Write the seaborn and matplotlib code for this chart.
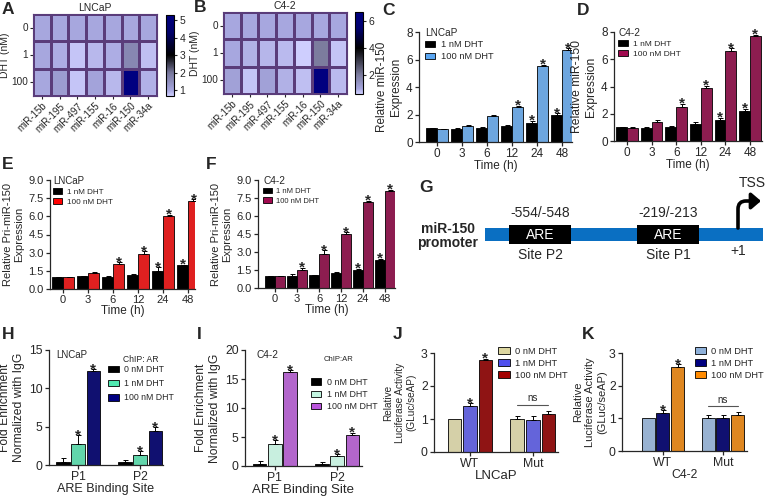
import matplotlib
matplotlib.use("Agg")
import matplotlib.pyplot as plt
import numpy as np
import pandas as pd
import seaborn as sns
from matplotlib.colors import LinearSegmentedColormap
from matplotlib.patches import FancyArrowPatch, Patch, Rectangle
from matplotlib.path import Path

# ---- A/B heatmaps ----
mirnas = ["miR-15b", "miR-195", "miR-497", "miR-155", "miR-16", "miR-150", "miR-34a"]
dht_rows = ["0", "1", "100"]
lncap_heat_0 = [1.0, 1.0, 1.0, 1.0, 1.0, 1.0, 1.0]
lncap_heat_1 = [1.0, 0.95, 0.75, 0.85, 0.95, 1.65, 0.8]
lncap_heat_100 = [1.0, 1.2, 0.75, 1.05, 0.85, 5.3, 0.9]
c42_heat_0 = [1.0, 1.0, 1.0, 1.0, 1.0, 1.0, 1.0]
c42_heat_1 = [1.0, 0.9, 0.85, 0.8, 0.6, 2.0, 0.7]
c42_heat_100 = [1.1, 0.7, 1.1, 0.9, 0.75, 6.6, 0.8]

# ---- C-F time courses ----
time_points = ["0", "3", "6", "12", "24", "48"]
lncap_mir_1nm = [1.0, 0.95, 1.0, 1.2, 1.38, 1.95]
lncap_mir_1nm_err = [0.02, 0.05, 0.1, 0.07, 0.15, 0.15]
lncap_mir_1nm_star = [0, 0, 0, 0, 1, 1]
lncap_mir_100nm = [0.95, 1.2, 1.9, 2.55, 5.55, 6.7]
lncap_mir_100nm_err = [0.02, 0.05, 0.03, 0.1, 0.08, 0.12]
lncap_mir_100nm_star = [0, 0, 0, 1, 1, 1]

c42_mir_1nm = [1.0, 0.98, 1.05, 1.28, 1.55, 2.2]
c42_mir_1nm_err = [0.02, 0.03, 0.08, 0.15, 0.15, 0.15]
c42_mir_1nm_star = [0, 0, 0, 0, 1, 1]
c42_mir_100nm = [0.98, 1.42, 2.5, 3.9, 6.6, 7.68]
c42_mir_100nm_err = [0.02, 0.1, 0.25, 0.15, 0.2, 0.1]
c42_mir_100nm_star = [0, 0, 1, 1, 1, 1]

lncap_pri_1nm = [1.0, 1.05, 1.03, 1.18, 1.5, 1.95]
lncap_pri_1nm_err = [0.02, 0.03, 0.08, 0.05, 0.3, 0.05]
lncap_pri_1nm_star = [0, 0, 0, 0, 1, 1]
lncap_pri_100nm = [0.98, 1.35, 2.1, 2.9, 6.0, 7.25]
lncap_pri_100nm_err = [0.02, 0.08, 0.1, 0.2, 0.15, 0.15]
lncap_pri_100nm_star = [0, 0, 1, 1, 1, 1]

c42_pri_1nm = [1.0, 0.98, 1.05, 1.22, 1.5, 2.3]
c42_pri_1nm_err = [0.02, 0.2, 0.05, 0.08, 0.1, 0.15]
c42_pri_1nm_star = [0, 0, 0, 0, 1, 1]
c42_pri_100nm = [0.98, 1.52, 2.85, 4.48, 7.15, 8.1]
c42_pri_100nm_err = [0.02, 0.15, 0.3, 0.15, 0.1, 0.1]
c42_pri_100nm_star = [0, 1, 1, 1, 1, 1]

# ---- H/I ChIP ----
are_sites = ["P1", "P2"]
chip_doses = ["0 nM DHT", "1 nM DHT", "100 nM DHT"]
lncap_chip_0nm = [0.35, 0.35]
lncap_chip_0nm_err = [0.55, 0.25]
lncap_chip_1nm = [2.8, 1.35]
lncap_chip_1nm_err = [1.1, 0.45]
lncap_chip_100nm = [12.2, 4.4]
lncap_chip_100nm_err = [0.3, 0.5]
c42_chip_0nm = [0.4, 0.35]
c42_chip_0nm_err = [0.4, 0.3]
c42_chip_1nm = [3.85, 1.65]
c42_chip_1nm_err = [0.6, 0.35]
c42_chip_100nm = [16.2, 5.4]
c42_chip_100nm_err = [0.3, 0.3]
chip_stars = [[0, 0], [1, 1], [1, 1]]

# ---- J/K luciferase ----
constructs = ["WT", "Mut"]
lncap_luc_0nm = [1.0, 1.0]
lncap_luc_0nm_err = [0.0, 0.1]
lncap_luc_1nm = [1.4, 0.98]
lncap_luc_1nm_err = [0.07, 0.1]
lncap_luc_100nm = [2.78, 1.15]
lncap_luc_100nm_err = [0.05, 0.1]
c42_luc_0nm = [1.0, 1.0]
c42_luc_0nm_err = [0.0, 0.1]
c42_luc_1nm = [1.17, 1.02]
c42_luc_1nm_err = [0.07, 0.07]
c42_luc_100nm = [2.58, 1.1]
c42_luc_100nm_err = [0.08, 0.1]
luc_stars = [[0, 0], [1, 0], [1, 0]]

sns.set_style("ticks")
plt.rcParams["font.family"] = ["Liberation Sans", "DejaVu Sans"]
plt.rcParams["axes.linewidth"] = 0.9

W, H = 765, 499
fig = plt.figure(figsize=(W / 100, H / 100), dpi=100)


def px_axes(left, top, right, bottom):
    return fig.add_axes([left / W, 1 - bottom / H, (right - left) / W, (bottom - top) / H])


def style_axes(ax, size=8.5):
    sns.despine(ax=ax)
    ax.tick_params(direction="out", length=3, width=0.9, pad=1.5, labelsize=size)


def add_errors(ax, errs, stars, star_size=11):
    for bars, err, star in zip(ax.containers, errs, stars):
        for bar, e, s in zip(bars, err, star):
            x = bar.get_x() + bar.get_width() / 2
            h = bar.get_height()
            if e > 0:
                ax.errorbar(x, h, yerr=[[0], [e]], fmt="none", ecolor="black",
                            elinewidth=0.7, capsize=1.8, capthick=0.7)
            if s:
                ax.annotate("*", (x, h + e), xytext=(0, -5), textcoords="offset points",
                            ha="center", va="bottom", fontsize=star_size, fontweight="bold")


def heat_panel(ax, cax, rows, stops, ticks, title):
    vmin, vmax = stops[0][0], stops[-1][0]
    cmap = LinearSegmentedColormap.from_list(
        "ght", [((v - vmin) / (vmax - vmin), c) for v, c in stops])
    df = pd.DataFrame(rows, index=dht_rows, columns=mirnas)
    sns.heatmap(df, cmap=cmap, vmin=vmin, vmax=vmax, linewidths=1.0, linecolor="#5a3c7a",
                ax=ax, cbar_ax=cax, cbar_kws={"ticks": ticks})
    ax.set_title(title, fontsize=7.5, pad=2)
    ax.set_ylabel("DHT (nM)", fontsize=7.5, labelpad=1)
    ax.set_xlabel("")
    ax.tick_params(length=2.5, width=0.8, pad=1, labelsize=7.2)
    ax.set_yticklabels(dht_rows, rotation=0)
    ax.set_xticklabels(mirnas, rotation=45, ha="right", rotation_mode="anchor", fontsize=7)
    for s in ax.spines.values():
        s.set_visible(True)
        s.set_linewidth(0.8)
        s.set_color("#5a3c7a")
    cax.tick_params(length=2.5, width=0.8, pad=1.5, labelsize=7.5)
    cbar = ax.collections[0].colorbar
    cbar.outline.set_linewidth(0.8)
    cbar.outline.set_edgecolor("black")


def time_panel(ax, low, low_err, low_star, high, high_err, high_star, color, cell,
               ylim, yticks, ylabel, xlim, legend_x, ylabel_size=8.5, fmt="{:g}",
               tick_size=8.5, legend_size=6.5, title_size=7):
    df = pd.DataFrame({"time": time_points * 2,
                       "dose": ["1 nM DHT"] * 6 + ["100 nM DHT"] * 6,
                       "value": low + high})
    sns.barplot(data=df, x="time", y="value", hue="dose", palette=["black", color],
                width=0.88, edgecolor="black", linewidth=0.6, errorbar=None,
                legend=False, ax=ax)
    add_errors(ax, [low_err, high_err], [low_star, high_star])
    ax.set_ylim(*ylim)
    ax.set_yticks(yticks)
    ax.set_yticklabels([fmt.format(t) for t in yticks])
    ax.set_xlim(*xlim)
    ax.set_xlabel("Time (h)", fontsize=8.5, labelpad=0)
    ax.set_ylabel(ylabel, fontsize=ylabel_size, labelpad=3)
    style_axes(ax, tick_size)
    handles = [Patch(facecolor=c, edgecolor="black", linewidth=0.6, label=l)
               for c, l in zip(["black", color], ["1 nM DHT", "100 nM DHT"])]
    ax.legend(handles=handles, title=cell, loc="upper left", bbox_to_anchor=(legend_x, 1.04),
              frameon=False, fontsize=legend_size, title_fontsize=title_size, alignment="left",
              handlelength=1.1, handleheight=0.65, handletextpad=0.6, labelspacing=0.3,
              borderpad=0, borderaxespad=0)


def group_panel(ax, cats, series, errs, stars, colors, ylim, yticks, xlim, xlabel, ylabel,
                ylabel_size=8.7, xlabel_size=9, legend_xy=(0.55, 0.9), legend_space=0.35,
                legend_size=6.5, ylabel_pad=3):
    df = pd.DataFrame({"cat": cats * 3,
                       "dose": [d for d in chip_doses for _ in cats],
                       "value": [v for s in series for v in s]})
    sns.barplot(data=df, x="cat", y="value", hue="dose", palette=colors, width=0.74, gap=0.12,
                edgecolor="black", linewidth=0.6, errorbar=None, legend=False, ax=ax)
    add_errors(ax, errs, stars)
    ax.set_ylim(*ylim)
    ax.set_yticks(yticks)
    ax.set_xlim(*xlim)
    ax.set_xlabel(xlabel, fontsize=xlabel_size, labelpad=0)
    ax.set_ylabel(ylabel, fontsize=ylabel_size, labelpad=ylabel_pad)
    style_axes(ax, 8.8)
    handles = [Patch(facecolor=c, edgecolor="black", linewidth=0.6, label=l)
               for c, l in zip(colors, chip_doses)]
    ax.legend(handles=handles, loc="upper left", bbox_to_anchor=legend_xy, frameon=False,
              fontsize=legend_size, handlelength=1.2, handleheight=0.75, handletextpad=0.6,
              labelspacing=legend_space, borderpad=0, borderaxespad=0)


# A
ax_a = px_axes(33, 14, 157, 96)
cax_a = px_axes(166, 15, 174, 96)
heat_panel(ax_a, cax_a, [lncap_heat_0, lncap_heat_1, lncap_heat_100],
           [(0.66, "#cecefe"), (1.0, "#a5a5dd"), (2.0, "#76769a"), (3.0, "#000000"),
            (4.3, "#00006a"), (5.3, "#000080")], [1, 2, 3, 4, 5], "LNCaP")

# B
ax_b = px_axes(223, 12, 347, 94)
cax_b = px_axes(355, 12, 363, 94)
heat_panel(ax_b, cax_b, [c42_heat_0, c42_heat_1, c42_heat_100],
           [(0.6, "#cecefe"), (1.0, "#a5a5dd"), (2.0, "#7c7c9e"), (4.0, "#000000"),
            (5.5, "#000070"), (6.67, "#000080")], [2, 4, 6], "C4-2")

# C
ax_c = px_axes(419, 32, 572, 142)
time_panel(ax_c, lncap_mir_1nm, lncap_mir_1nm_err, lncap_mir_1nm_star,
           lncap_mir_100nm, lncap_mir_100nm_err, lncap_mir_100nm_star, "#5aa6f2", "LNCaP",
           (0, 8), [0, 2, 4, 6, 8], "Relative miR-150\nExpression", (-0.72, 5.4), 0.04,
           legend_size=6.7, title_size=7.2)

# D
ax_d = px_axes(614, 32, 762, 141)
time_panel(ax_d, c42_mir_1nm, c42_mir_1nm_err, c42_mir_1nm_star,
           c42_mir_100nm, c42_mir_100nm_err, c42_mir_100nm_star, "#a00a4f", "C4-2",
           (0, 8), [0, 2, 4, 6, 8], "Relative miR-150\nExpression", (-0.53, 5.49), 0.03,
           ylabel_size=8.7, legend_size=6.0, title_size=7.2)

# E
ax_e = px_axes(50, 180, 195, 289)
time_panel(ax_e, lncap_pri_1nm, lncap_pri_1nm_err, lncap_pri_1nm_star,
           lncap_pri_100nm, lncap_pri_100nm_err, lncap_pri_100nm_star, "#ff0000", "LNCaP",
           (0, 9), [0, 1.5, 3, 4.5, 6, 7.5, 9], "Relative Pri-miR-150\nExpression",
           (-0.52, 5.28), 0.02, ylabel_size=8, fmt="{:.1f}", tick_size=8,
           legend_size=5.9, title_size=7)

# F
ax_f = px_axes(258, 180, 395, 288)
time_panel(ax_f, c42_pri_1nm, c42_pri_1nm_err, c42_pri_1nm_star,
           c42_pri_100nm, c42_pri_100nm_err, c42_pri_100nm_star, "#a00a4f", "C4-2",
           (0, 9), [0, 1.5, 3, 4.5, 6, 7.5, 9], "Relative Pri-miR-150\nExpression",
           (-0.77, 5.45), 0.04, ylabel_size=8, fmt="{:.1f}", tick_size=8,
           legend_size=5.5, title_size=7.3)

# G promoter diagram, drawn in pixel units
ax_g = px_axes(420, 175, 765, 270)
ax_g.set_xlim(420, 765)
ax_g.set_ylim(270, 175)
ax_g.axis("off")
ax_g.add_patch(Rectangle((485, 228), 278, 13, facecolor="#0a6fc2", edgecolor="none"))
for x0, site, pos in [(509, "Site P2", "-554/-548"), (637, "Site P1", "-219/-213")]:
    ax_g.add_patch(Rectangle((x0, 225), 62, 19, facecolor="black", edgecolor="none"))
    ax_g.text(x0 + 31, 235, "ARE", color="white", fontsize=10, ha="center", va="center")
    ax_g.text(x0 + 31, 220, pos, fontsize=10, ha="center", va="bottom")
    ax_g.text(x0 + 31, 248, site, fontsize=10, ha="center", va="top")
ax_g.text(448, 236, "miR-150\npromoter", fontsize=10, fontweight="bold", ha="center",
          va="center", linespacing=1.0)
ax_g.text(738, 244, "+1", fontsize=10, ha="center", va="top")
ax_g.text(752, 190, "TSS", fontsize=10, ha="center", va="bottom")
tss = Path([(738, 228), (738, 209), (738, 201), (746, 201), (761, 201)],
           [Path.MOVETO, Path.LINETO, Path.CURVE3, Path.CURVE3, Path.LINETO])
ax_g.add_patch(FancyArrowPatch(path=tss, arrowstyle="-|>,head_length=3.5,head_width=3",
                               linewidth=2.6, color="black", mutation_scale=1.6))

# H
ax_h = px_axes(49, 350, 163, 465)
group_panel(ax_h, are_sites, [lncap_chip_0nm, lncap_chip_1nm, lncap_chip_100nm],
            [lncap_chip_0nm_err, lncap_chip_1nm_err, lncap_chip_100nm_err], chip_stars,
            ["black", "#4fe9b0", "#000080"], (0, 15), [0, 5, 10, 15], (-0.47, 1.37),
            "ARE Binding Site", "Fold Enrichment\nNormalized with IgG",
            xlabel_size=9.1, legend_xy=(0.52, 0.87), legend_space=0.6, legend_size=6.3)
ax_h.text(0.06, 1.0, "LNCaP", transform=ax_h.transAxes, fontsize=7, va="top")
ax_h.text(0.65, 0.96, "ChIP: AR", transform=ax_h.transAxes, fontsize=6.2, va="top")

# I
ax_i = px_axes(245, 350, 362, 466)
group_panel(ax_i, are_sites, [c42_chip_0nm, c42_chip_1nm, c42_chip_100nm],
            [c42_chip_0nm_err, c42_chip_1nm_err, c42_chip_100nm_err], chip_stars,
            ["black", "#c2f5e0", "#bb55dd"], (0, 20), [0, 5, 10, 15, 20], (-0.48, 1.4),
            "ARE Binding Site", "Fold Enrichment\nNormalized with IgG",
            xlabel_size=9.5, legend_xy=(0.56, 0.76), legend_space=0.35, legend_size=6.4)
ax_i.text(0.1, 1.0, "C4-2", transform=ax_i.transAxes, fontsize=7.3, va="top")
ax_i.text(0.67, 0.95, "ChIP:AR", transform=ax_i.transAxes, fontsize=5.5, va="top")

# J / K
for ax_rect, series, errs, colors, cell, xlim, lx, ysize, xsize, lsize, ypad in [
    ((434, 353, 558, 452), [lncap_luc_0nm, lncap_luc_1nm, lncap_luc_100nm],
     [lncap_luc_0nm_err, lncap_luc_1nm_err, lncap_luc_100nm_err],
     ["#dcd6a0", "#5050ee", "#a30000"], "LNCaP", (-0.57, 1.4), 0.52, 7.2, 9.5, 6.7, 3),
    ((622, 353, 747, 451), [c42_luc_0nm, c42_luc_1nm, c42_luc_100nm],
     [c42_luc_0nm_err, c42_luc_1nm_err, c42_luc_100nm_err],
     ["#8fb1da", "#000080", "#ff8a00"], "C4-2", (-0.68, 1.4), 0.58, 8.0, 8.8, 6.7, 1.5),
]:
    ax = px_axes(*ax_rect)
    group_panel(ax, constructs, series, errs, luc_stars, colors, (0, 3), [0, 1, 2, 3], xlim,
                cell, "Relative\nLuciferase Activity\n(GLuc/seAP)", ylabel_size=ysize,
                xlabel_size=xsize, legend_xy=(lx, 1.06), legend_space=0.3, legend_size=lsize,
                ylabel_pad=ypad)
    left_bar = ax.containers[0][1]
    right_bar = ax.containers[2][1]
    x0 = left_bar.get_x() + left_bar.get_width() / 2
    x1 = right_bar.get_x() + right_bar.get_width() / 2
    top = max(s[1] + e[1] for s, e in zip(series, errs)) + 0.17
    ax.plot([x0, x1], [top, top], color="#555555", linewidth=0.8)
    ax.text((x0 + x1) / 2, top + 0.05, "ns", fontsize=7, ha="center", va="bottom")

# panel letters
for letter, x, y in [("A", 2, 2), ("B", 194, 0), ("C", 382, 3), ("D", 577, 3),
                     ("E", 2, 157), ("F", 206, 157), ("G", 419, 180),
                     ("H", 2, 327), ("I", 197, 327), ("J", 393, 327), ("K", 582, 327)]:
    fig.text(x / W, 1 - y / H, letter, fontsize=12.5, fontweight="bold", ha="left", va="top")

fig.savefig("out.png", dpi=100)
